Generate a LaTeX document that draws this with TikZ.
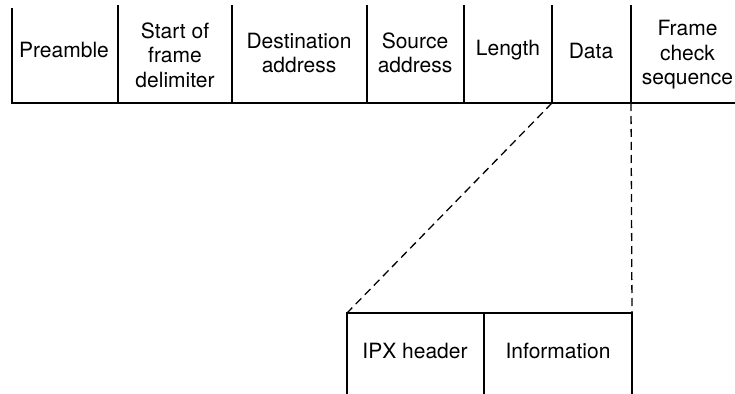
\documentclass[tikz,border=0pt]{standalone}
\usepackage{fontspec}
\setmainfont{TeX Gyre Heros}
\begin{document}
\begin{tikzpicture}[x=1pt,y=-1pt,
  rule/.style={line width=1.4pt},
  dashrule/.style={line width=1.3pt,dash pattern=on 8pt off 5pt},
  lbl/.style={align=center,inner sep=0pt,font=\fontsize{21}{24.5}\selectfont}]
\useasboundingbox (0,0) rectangle (735,393);
\clip (0,0) rectangle (735,393);
% top frame
\coordinate (t0) at (12,8);
\coordinate (b0) at (12,103);
\coordinate (t1) at (118,5); \coordinate (b1) at (118,103);
\coordinate (t2) at (232,5); \coordinate (b2) at (232,103);
\coordinate (t3) at (367,5); \coordinate (b3) at (367,103);
\coordinate (t4) at (464,5); \coordinate (b4) at (464,103);
\coordinate (t5) at (552,5); \coordinate (b5) at (552,103);
\coordinate (t6) at (631,5); \coordinate (b6) at (631,103);
\coordinate (bend) at (740,103);
\draw[rule] (t0) -- (b0) -- (bend);
\foreach \i in {1,...,6} \draw[rule] (t\i) -- (b\i);
\node[lbl] (pre) at (64,50) {Preamble};
\node[lbl] (sfd) at (175,55) {Start of\\frame\\delimiter};
\node[lbl] (dst) at (299,53) {Destination\\address};
\node[lbl] (src) at (415,53) {Source\\address};
\node[lbl] (len) at (508,50) {Length};
\node[lbl] (dat) at (591,51) {Data};
\node[lbl] (fcs) at (687.5,55) {Frame\\check\\sequence};
% bottom IPX packet
\coordinate (p0) at (347,313); \coordinate (q0) at (347,395);
\coordinate (p1) at (484,313); \coordinate (q1) at (484,395);
\coordinate (p2) at (632,313); \coordinate (q2) at (632,395);
\draw[rule] (q0) -- (p0) -- (p2) -- (q2);
\draw[rule] (p1) -- (q1);
\node[lbl] (ipx) at (415,351) {IPX header};
\node[lbl] (inf) at (558,351) {Information};
% dashed expansion lines
\draw[dashrule] (b5) -- (p0);
\draw[dashrule] (b6) -- (p2);
\end{tikzpicture}
\end{document}
